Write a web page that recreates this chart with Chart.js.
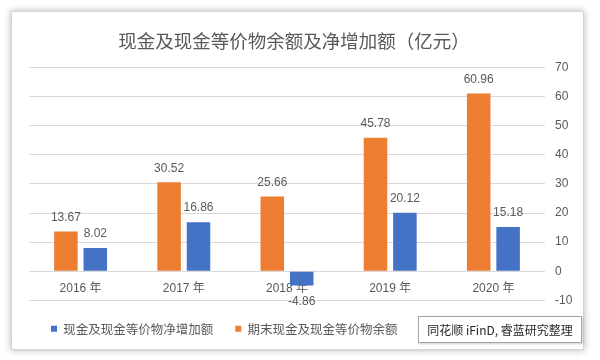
<!DOCTYPE html>
<html>
<head>
<meta charset="utf-8">
<script src="https://cdn.jsdelivr.net/npm/chart.js@4/dist/chart.umd.min.js"></script>
<style>
  html, body { margin: 0; padding: 0; background: #ffffff; }
  #wrap { position: relative; width: 600px; height: 360px; overflow: hidden; background: #ffffff; }
  #card { position: absolute; left: 11px; top: 11px; width: 571px; height: 337px;
          background: #ffffff; border: 1px solid #d4d4d4; box-shadow: 0 0 7px rgba(0,0,0,0.3); }
  #chart { position: absolute; left: 0; top: 0; }
  #source { position: absolute; left: 418px; top: 316px; width: 162px; height: 25px;
            border: 1px solid #a6a6a6; background: #ffffff; box-shadow: 1px 1px 2px rgba(0,0,0,0.2);
            font: 12px "Noto Sans CJK SC", "Liberation Sans", sans-serif; color: #262626;
            line-height: 25px; text-align: center; white-space: nowrap; }
</style>
</head>
<body>
<div id="wrap">
  <div id="card"></div>
  <canvas id="chart" width="600" height="360"></canvas>
  <div id="source">同花顺 iFinD, 睿蓝研究整理</div>
</div>
<script>
const categories = ['2016 年', '2017 年', '2018 年', '2019 年', '2020 年'];
const balanceLabel = '期末现金及现金等价物余额';
const netLabel = '现金及现金等价物净增加额';
const balanceValues = [13.67, 30.52, 25.66, 45.78, 60.96];
const netValues = [8.02, 16.86, -4.86, 20.12, 15.18];
const yMin = -10, yMax = 70, yStep = 10;
const titleText = '现金及现金等价物余额及净增加额（亿元）';

const FONT = '"Liberation Sans", "Noto Sans CJK SC", sans-serif';
const CJK = '"Noto Sans CJK SC", "Liberation Sans", sans-serif';
const GRAY = '#595959';

const valueLabels = {
  id: 'valueLabels',
  afterDatasetsDraw(chart) {
    const ctx = chart.ctx;
    ctx.save();
    ctx.font = '12px ' + FONT;
    ctx.fillStyle = GRAY;
    ctx.textAlign = 'center';
    ctx.textBaseline = 'middle';
    chart.data.datasets.forEach((ds, di) => {
      const meta = chart.getDatasetMeta(di);
      meta.data.forEach((el, i) => {
        const v = ds.data[i];
        const y = v >= 0 ? el.y - 14 : el.y + 16;
        ctx.fillText(v.toFixed(2), el.x, y);
      });
    });
    ctx.restore();
  }
};

new Chart(document.getElementById('chart'), {
  type: 'bar',
  data: {
    labels: categories,
    datasets: [
      { label: balanceLabel, data: balanceValues, backgroundColor: '#ED7D31', yAxisID: 'y',
        categoryPercentage: 0.57, barPercentage: 0.8 },
      { label: netLabel, data: netValues, backgroundColor: '#4472C4', yAxisID: 'y',
        categoryPercentage: 0.57, barPercentage: 0.8 }
    ]
  },
  options: {
    responsive: false,
    animation: false,
    layout: { padding: { top: 13, left: 13, right: 25, bottom: 15 } },
    plugins: {
      title: {
        display: true, text: titleText, color: GRAY,
        font: { size: 18.5, family: CJK, weight: 'normal' },
        padding: { top: 17, bottom: 15 }
      },
      legend: {
        position: 'bottom', align: 'start', reverse: true, fullSize: false,
        labels: { boxWidth: 6, boxHeight: 6, padding: 22, color: GRAY,
                  font: { size: 12.5, family: CJK } }
      },
      tooltip: { enabled: false }
    },
    scales: {
      x: {
        type: 'category', position: { y: 0 },
        grid: { display: false, drawTicks: false }, border: { display: false },
        ticks: { color: GRAY, font: { size: 12, family: FONT }, padding: 10 }
      },
      y: {
        type: 'linear', position: 'right', min: yMin, max: yMax,
        ticks: { stepSize: yStep, color: GRAY, font: { size: 12, family: FONT }, padding: 10 },
        grid: { color: '#d9d9d9', drawTicks: false }, border: { display: false },
        afterFit(s) { s.width = 30; }
      },
      yL: {
        type: 'linear', position: 'left', display: true,
        grid: { display: false, drawTicks: false }, border: { display: false },
        ticks: { display: false },
        afterFit(s) { s.width = 16; }
      }
    }
  },
  plugins: [valueLabels]
});
</script>
</body>
</html>
